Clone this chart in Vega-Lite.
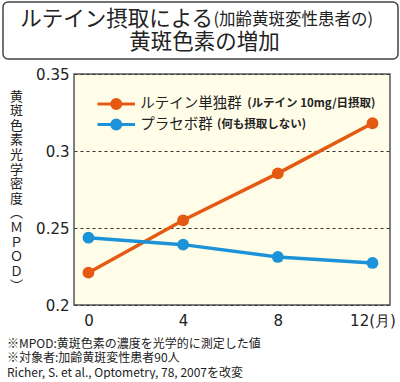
{
  "$schema": "https://vega.github.io/schema/vega-lite/v6.json",
  "background": "white",
  "padding": {"left": 2, "top": 1, "right": 0, "bottom": 0},
  "config": {"font": "Noto Sans CJK JP", "text": {"font": "Noto Sans CJK JP"}},
  "spacing": 6,
  "vconcat": [
    {
      "width": 395,
      "height": 57,
      "view": {"stroke": "#444", "strokeWidth": 1.5, "cornerRadius": 5, "fill": "white"},
      "layer": [
        {
          "data": {"values": [{"t": "ルテイン摂取による"}]},
          "mark": {"type": "text", "align": "right", "baseline": "middle", "dx": 12.5, "dy": -11, "fontSize": 21.5, "font": "Noto Sans CJK JP", "color": "#222"},
          "encoding": {"text": {"field": "t"}}
        },
        {
          "data": {"values": [{"t": "(加齢黄斑変性患者の)"}]},
          "mark": {"type": "text", "align": "left", "baseline": "middle", "dx": 13, "dy": -10.5, "fontSize": 16.5, "font": "Noto Sans CJK JP", "color": "#222"},
          "encoding": {"text": {"field": "t"}}
        },
        {
          "data": {"values": [{"t": "黄斑色素の増加"}]},
          "mark": {"type": "text", "align": "center", "baseline": "middle", "dx": 4, "dy": 12, "fontSize": 21.5, "font": "Noto Sans CJK JP", "color": "#222"},
          "encoding": {"text": {"field": "t"}}
        }
      ]
    },
    {
      "spacing": 1,
      "hconcat": [
        {
          "width": 1,
          "height": 1,
          "view": {"stroke": null},
          "data": {"values": []},
          "mark": "point"
        },
        {
          "width": 316,
          "height": 231,
          "view": {"stroke": "#555", "strokeWidth": 1.5, "fill": "#FFFDE8"},
          "data": {
            "values": [
              {"group": "ルテイン単独群", "note": "(ルテイン 10mg/日摂取)", "month": 0, "mpod": 0.221},
              {"group": "ルテイン単独群", "note": "(ルテイン 10mg/日摂取)", "month": 4, "mpod": 0.255},
              {"group": "ルテイン単独群", "note": "(ルテイン 10mg/日摂取)", "month": 8, "mpod": 0.2855},
              {"group": "ルテイン単独群", "note": "(ルテイン 10mg/日摂取)", "month": 12, "mpod": 0.318},
              {"group": "プラセボ群", "note": "(何も摂取しない)", "month": 0, "mpod": 0.2437},
              {"group": "プラセボ群", "note": "(何も摂取しない)", "month": 4, "mpod": 0.2392},
              {"group": "プラセボ群", "note": "(何も摂取しない)", "month": 8, "mpod": 0.2312},
              {"group": "プラセボ群", "note": "(何も摂取しない)", "month": 12, "mpod": 0.2273}
            ]
          },
          "encoding": {
            "x": {
              "field": "month",
              "type": "quantitative",
              "scale": {"domain": [-0.61, 12.74], "nice": false, "zero": false},
              "axis": {
                "values": [0, 4, 8, 12],
                "labelExpr": "datum.value == 12 ? '12(月)' : datum.label",
                "grid": false,
                "ticks": false,
                "domain": false,
                "labelFont": "DejaVu Sans",
                "labelFontSize": 15,
                "labelColor": "#222",
                "labelPadding": 8,
                "title": ["※MPOD:黄斑色素の濃度を光学的に測定した値", "※対象者:加齢黄斑変性患者90人", "Richer, S. et al., Optometry, 78, 2007を改変"],
                "titleX": -67.5,
                "titleY": 33,
                "titleAlign": "left",
                "titleBaseline": "top",
                "titleFont": "Noto Sans CJK JP",
                "titleFontSize": 12,
                "titleFontWeight": "normal",
                "titleLineHeight": 14.5,
                "titleColor": "#222"
              }
            },
            "y": {
              "field": "mpod",
              "type": "quantitative",
              "scale": {"domain": [0.2, 0.35], "nice": false, "zero": false},
              "axis": {
                "values": [0.2, 0.25, 0.3, 0.35],
                "format": "~g",
                "grid": true,
                "gridDash": [3, 3],
                "gridColor": "#333",
                "gridWidth": 1,
                "ticks": false,
                "domain": false,
                "labelFont": "DejaVu Sans",
                "labelFontSize": 15,
                "labelColor": "#222",
                "labelPadding": 5,
                "title": ["黄", "斑", "色", "素", "光", "学", "密", "度", "︵", "Ｍ", "Ｐ", "Ｏ", "Ｄ", "︶"],
                "titleAngle": 0,
                "titleX": -58,
                "titleY": 16,
                "titleAlign": "center",
                "titleBaseline": "top",
                "titleFont": "Noto Sans CJK JP",
                "titleFontSize": 13,
                "titleFontWeight": "normal",
                "titleLineHeight": 14.6,
                "titleColor": "#222"
              }
            },
            "color": {
              "field": "group",
              "type": "nominal",
              "scale": {"domain": ["ルテイン単独群", "プラセボ群"], "range": ["#E55A12", "#1C93D8"]},
              "legend": {
                "title": null,
                "orient": "none",
                "legendX": 105.75,
                "legendY": 94.5,
                "padding": 0,
                "symbolType": "M-3.2,0H3.2M0.77,0A0.77,0.77,0,1,1,-0.77,0A0.77,0.77,0,1,1,0.77,0Z",
                "symbolSize": 137,
                "symbolStrokeWidth": 3,
                "labelFont": "Noto Sans CJK JP",
                "labelFontSize": 14.5,
                "labelColor": "#222",
                "labelOffset": 16.5,
                "rowPadding": -2.5
              }
            }
          },
          "layer": [
            {"mark": {"type": "line", "strokeWidth": 3.5}},
            {
              "mark": {"type": "point", "filled": true, "size": 140, "opacity": 1},
              "encoding": {
                "shape": {
                  "field": "note",
                  "type": "nominal",
                  "scale": {"domain": ["(ルテイン 10mg/日摂取)", "(何も摂取しない)"], "range": ["circle", "circle"]},
                  "legend": {
                    "title": null,
                    "orient": "none",
                    "values": ["(ルテイン 10mg/日摂取)"],
                    "legendX": 229.25,
                    "legendY": 94.5,
                    "padding": 0,
                    "symbolSize": 137,
                    "symbolStrokeWidth": 3,
                    "symbolOpacity": 0,
                    "labelFont": "Noto Sans CJK JP",
                    "labelFontSize": 11.5,
                    "labelFontWeight": "bold",
                    "labelColor": "#222",
                    "labelOffset": 0
                  }
                },
                "size": {
                  "field": "note",
                  "type": "nominal",
                  "scale": {"domain": ["(何も摂取しない)", "(ルテイン 10mg/日摂取)"], "range": [140, 140]},
                  "legend": {
                    "title": null,
                    "orient": "none",
                    "values": ["(何も摂取しない)"],
                    "legendX": 199,
                    "legendY": 115,
                    "padding": 0,
                    "symbolStrokeWidth": 3,
                    "symbolOpacity": 0,
                    "labelFont": "Noto Sans CJK JP",
                    "labelFontSize": 11.5,
                    "labelFontWeight": "bold",
                    "labelColor": "#222",
                    "labelOffset": 0
                  }
                }
              }
            }
          ]
        }
      ]
    }
  ]
}
